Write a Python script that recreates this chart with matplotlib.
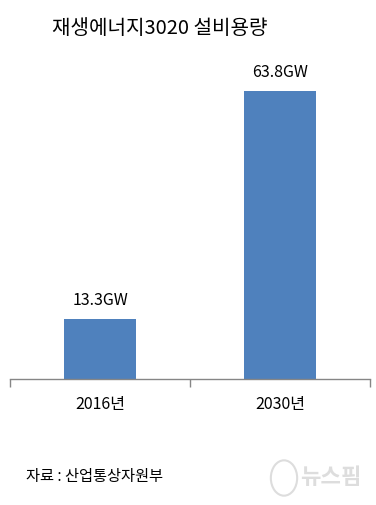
import matplotlib.pyplot as plt

plt.rcParams["font.family"] = ["Noto Sans CJK KR", "DejaVu Sans"]

# 데이터
years = ["2016년", "2030년"]
capacity = [13.3, 63.8]
value_labels = ["13.3GW", "63.8GW"]

fig = plt.figure(figsize=(3.76, 5.05), dpi=100)
ax = fig.add_axes([10 / 376, 126 / 505, 360 / 376, 316 / 505])

x = range(len(years))
bars = ax.bar(x, capacity, width=0.4, color="#4F81BD", zorder=2)

for b, lab in zip(bars, value_labels):
    ax.annotate(lab, (b.get_x() + b.get_width() / 2, b.get_height()),
                xytext=(0, 7), textcoords="offset points",
                ha="center", va="bottom", fontsize=11.5)

ax.set_xlim(-0.5, 1.5)
ax.set_ylim(0, 70)
ax.set_yticks([])
for s in ["top", "right", "left"]:
    ax.spines[s].set_visible(False)
ax.spines["bottom"].set_color("#868686")
ax.spines["bottom"].set_linewidth(1)

# 카테고리 경계 눈금
ax.set_xticks([-0.5, 0.5, 1.5], minor=False)
ax.set_xticklabels([])
ax.tick_params(axis="x", length=6, color="#868686", width=1)
ax.set_xticks(list(x), minor=True)
ax.set_xticklabels(years, minor=True, fontsize=11.5)
ax.tick_params(axis="x", which="minor", length=0, pad=12)

fig.text(52 / 376, 1 - 28 / 505, "재생에너지3020 설비용량", fontsize=14.5,
         ha="left", va="center")
fig.text(26 / 376, 1 - 477 / 505, "자료 : 산업통상자원부", fontsize=11,
         ha="left", va="center")
fig.text(300 / 376, 1 - 478 / 505, "뉴스핌", fontsize=16, fontweight="bold",
         color="#dddddd", ha="left", va="center")
fig.patches.append(plt.Circle((284 / 376, 1 - 478 / 505), 0.035, fill=False,
                              edgecolor="#dddddd", linewidth=1.5,
                              transform=fig.transFigure))

fig.savefig("out.png", dpi=100)
